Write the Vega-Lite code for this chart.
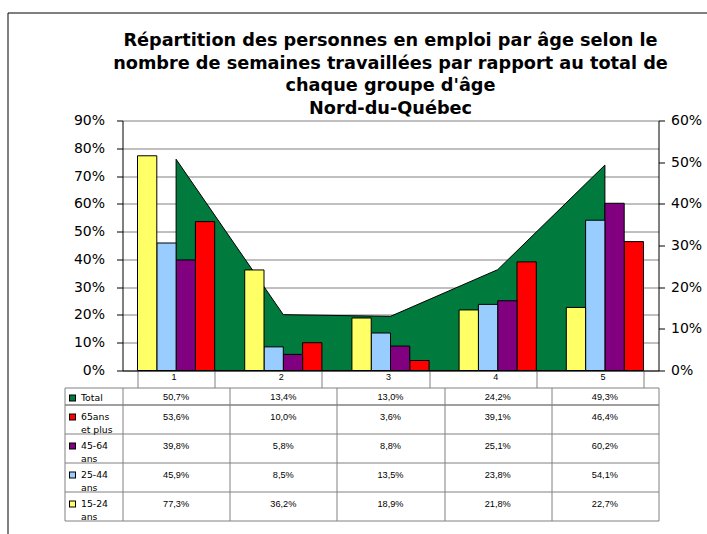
{
  "$schema": "https://vega.github.io/schema/vega-lite/v6.json",
  "padding": {"left": 6.5, "top": 11.5, "right": 0, "bottom": 0},
  "background": "white",
  "spacing": 17,
  "bounds": "flush",
  "config": {
    "locale": {"number": {"decimal": ",", "thousands": " ", "grouping": [3], "currency": ["", " $"]}},
    "view": {"stroke": null},
    "font": "DejaVu Sans"
  },
  "datasets": {
    "emploi": [
      {"categorie": "1", "groupe": "Total", "valeur": 0.507},
      {"categorie": "2", "groupe": "Total", "valeur": 0.134},
      {"categorie": "3", "groupe": "Total", "valeur": 0.130},
      {"categorie": "4", "groupe": "Total", "valeur": 0.242},
      {"categorie": "5", "groupe": "Total", "valeur": 0.493},
      {"categorie": "1", "groupe": "65ans et plus", "valeur": 0.536},
      {"categorie": "2", "groupe": "65ans et plus", "valeur": 0.100},
      {"categorie": "3", "groupe": "65ans et plus", "valeur": 0.036},
      {"categorie": "4", "groupe": "65ans et plus", "valeur": 0.391},
      {"categorie": "5", "groupe": "65ans et plus", "valeur": 0.464},
      {"categorie": "1", "groupe": "45-64 ans", "valeur": 0.398},
      {"categorie": "2", "groupe": "45-64 ans", "valeur": 0.058},
      {"categorie": "3", "groupe": "45-64 ans", "valeur": 0.088},
      {"categorie": "4", "groupe": "45-64 ans", "valeur": 0.251},
      {"categorie": "5", "groupe": "45-64 ans", "valeur": 0.602},
      {"categorie": "1", "groupe": "25-44 ans", "valeur": 0.459},
      {"categorie": "2", "groupe": "25-44 ans", "valeur": 0.085},
      {"categorie": "3", "groupe": "25-44 ans", "valeur": 0.135},
      {"categorie": "4", "groupe": "25-44 ans", "valeur": 0.238},
      {"categorie": "5", "groupe": "25-44 ans", "valeur": 0.541},
      {"categorie": "1", "groupe": "15-24 ans", "valeur": 0.773},
      {"categorie": "2", "groupe": "15-24 ans", "valeur": 0.362},
      {"categorie": "3", "groupe": "15-24 ans", "valeur": 0.189},
      {"categorie": "4", "groupe": "15-24 ans", "valeur": 0.218},
      {"categorie": "5", "groupe": "15-24 ans", "valeur": 0.227}
    ]
  },
  "vconcat": [
    {
      "width": 536,
      "height": 250,
      "title": {
        "text": ["Répartition des personnes en emploi par âge selon le", "nombre de semaines travaillées par rapport au total de", "chaque groupe d'âge", "Nord-du-Québec"],
        "font": "DejaVu Sans",
        "fontSize": 17.7,
        "fontWeight": "bold",
        "lineHeight": 22.5,
        "anchor": "middle",
        "frame": "group",
        "offset": -4,
        "color": "black"
      },
      "data": {"name": "emploi"},
      "layer": [
        {
          "transform": [{"filter": "datum.groupe === 'Total'"}],
          "mark": {"type": "area", "color": "#007A3D", "stroke": "black", "strokeWidth": 1, "opacity": 1},
          "encoding": {
            "x": {"field": "categorie", "type": "nominal", "scale": {"paddingInner": 0.28, "paddingOuter": 0.14}},
            "y": {
              "field": "valeur", "type": "quantitative",
              "scale": {"domain": [0, 0.6], "nice": false},
              "axis": {
                "orient": "right", "title": null, "format": "0%",
                "values": [0, 0.1, 0.2, 0.3, 0.4, 0.5, 0.6],
                "grid": false, "domainColor": "black", "tickColor": "black", "tickSize": 6,
                "labelPadding": 6, "labelFontSize": 14, "labelColor": "black", "labelFont": "DejaVu Sans"
              }
            }
          }
        },
        {
          "transform": [{"filter": "datum.groupe !== 'Total'"}],
          "mark": {"type": "bar", "stroke": "black", "strokeWidth": 1},
          "encoding": {
            "x": {
              "field": "categorie", "type": "nominal",
              "scale": {"paddingInner": 0.28, "paddingOuter": 0.14},
              "axis": {
                "title": null, "orient": "bottom", "tickBand": "extent", "tickSize": 17,
                "tickColor": "#808080", "domainColor": "black", "labelAngle": 0,
                "labelFont": "Liberation Sans", "labelFontSize": 9, "labelColor": "black",
                "labelPadding": -11, "grid": false
              }
            },
            "xOffset": {"field": "groupe", "type": "nominal", "sort": ["15-24 ans", "25-44 ans", "45-64 ans", "65ans et plus"]},
            "y": {
              "field": "valeur", "type": "quantitative",
              "scale": {"domain": [0, 0.9], "nice": false},
              "axis": {
                "orient": "left", "title": null, "format": "0%",
                "values": [0, 0.1, 0.2, 0.3, 0.4, 0.5, 0.6, 0.7, 0.8, 0.9],
                "grid": true, "gridColor": "#808080", "domainColor": "black", "tickColor": "black", "tickSize": 6,
                "labelPadding": 12, "labelFontSize": 14, "labelColor": "black", "labelFont": "DejaVu Sans"
              }
            },
            "color": {
              "field": "groupe", "type": "nominal",
              "scale": {"domain": ["15-24 ans", "25-44 ans", "45-64 ans", "65ans et plus"], "range": ["#FFFF66", "#99CCFF", "#800080", "#FF0000"]},
              "legend": null
            }
          }
        }
      ],
      "resolve": {"scale": {"y": "independent"}}
    },
    {
      "spacing": 0,
      "bounds": "flush",
      "vconcat": [
        {
          "width": 536,
          "height": 17,
          "data": {"name": "emploi"},
          "transform": [{"filter": "datum.groupe === 'Total'"}],
          "layer": [
            {
              "mark": {"type": "text", "font": "Liberation Sans", "fontSize": 9.2, "baseline": "middle", "color": "black", "dy": 1},
              "encoding": {
                "x": {
                  "field": "categorie", "type": "nominal",
                  "scale": {"paddingInner": 0, "paddingOuter": 0},
                  "axis": {"title": null, "orient": "bottom", "grid": true, "gridColor": "#808080", "tickBand": "extent", "ticks": false, "labels": false, "domain": false}
                },
                "y": {
                  "field": "groupe", "type": "nominal",
                  "scale": {"paddingInner": 0, "paddingOuter": 0},
                  "axis": {
                    "orient": "left", "title": null, "grid": true, "gridColor": "#808080", "tickBand": "extent",
                    "ticks": true, "tickSize": 58, "tickColor": "#808080", "domain": false,
                    "labelAlign": "left", "labelPadding": -16, "labelOffset": 1, "labelFont": "DejaVu Sans", "labelFontSize": 9.3,
                    "labelColor": "black", "labelBaseline": "middle",
                    "labelExpr": "datum.value == null ? '' : datum.value"
                  }
                },
                "text": {"field": "valeur", "type": "quantitative", "format": ".1%"}
              }
            },
            {
              "mark": {"type": "point", "opacity": 0},
              "encoding": {
                "y": {
                  "field": "groupe", "type": "nominal",
                  "axis": {"orient": "left", "offset": 58, "title": null, "domain": true, "domainColor": "#808080", "ticks": false, "labels": false, "grid": false}
                }
              }
            },
            {
              "mark": {"type": "point", "opacity": 0},
              "encoding": {
                "y": {
                  "field": "groupe", "type": "nominal",
                  "axis": {"orient": "left", "offset": 47, "title": null, "domain": false, "labels": false, "grid": false, "ticks": true, "tickSize": 7, "tickWidth": 7, "tickOffset": 1, "tickColor": "black"}
                }
              }
            },
            {
              "mark": {"type": "point", "opacity": 0},
              "encoding": {
                "y": {
                  "field": "groupe", "type": "nominal",
                  "axis": {"orient": "left", "offset": 48, "title": null, "domain": false, "labels": false, "grid": false, "ticks": true, "tickSize": 5, "tickWidth": 5, "tickOffset": 1, "tickColor": "#007A3D"}
                }
              }
            },
            {
              "mark": {"type": "point", "opacity": 0},
              "encoding": {
                "x": {
                  "field": "categorie", "type": "nominal",
                  "axis": {"orient": "top", "offset": 375, "values": ["1"], "title": null, "domain": false, "labels": false, "grid": false, "ticks": true, "tickSize": -522, "tickOffset": -168.6, "tickColor": "black", "tickWidth": 1}
                },
                "y": {
                  "field": "groupe", "type": "nominal",
                  "axis": {"orient": "left", "offset": 115, "values": ["Total"], "title": null, "domain": false, "labels": false, "grid": false, "ticks": true, "tickSize": -699, "tickOffset": -383.5, "tickColor": "black", "tickWidth": 1}
                }
              }
            }
          ],
          "resolve": {"axis": {"x": "independent", "y": "independent"}}
        },
        {
          "width": 536,
          "height": 116,
          "data": {"name": "emploi"},
          "transform": [{"filter": "datum.groupe !== 'Total'"}],
          "layer": [
            {
              "mark": {"type": "text", "font": "Liberation Sans", "fontSize": 9.2, "baseline": "middle", "color": "black", "dy": -2.5},
              "encoding": {
                "x": {
                  "field": "categorie", "type": "nominal",
                  "scale": {"paddingInner": 0, "paddingOuter": 0},
                  "axis": {"title": null, "orient": "bottom", "grid": true, "gridColor": "#808080", "tickBand": "extent", "ticks": false, "labels": false, "domain": false}
                },
                "y": {
                  "field": "groupe", "type": "nominal",
                  "sort": ["65ans et plus", "45-64 ans", "25-44 ans", "15-24 ans"],
                  "scale": {"paddingInner": 0, "paddingOuter": 0},
                  "axis": {
                    "orient": "left", "title": null, "grid": true, "gridColor": "#808080", "tickBand": "extent",
                    "ticks": true, "tickSize": 58, "tickColor": "#808080", "domain": false,
                    "labelAlign": "left", "labelPadding": -16, "labelOffset": -2.5, "labelFont": "DejaVu Sans", "labelFontSize": 9.3,
                    "labelColor": "black", "labelLineHeight": 13, "labelBaseline": "middle",
                    "labelExpr": "datum.value == null ? '' : datum.value == '65ans et plus' ? ['65ans', 'et plus'] : split(datum.value, ' ')"
                  }
                },
                "text": {"field": "valeur", "type": "quantitative", "format": ".1%"}
              }
            },
            {
              "mark": {"type": "point", "opacity": 0},
              "encoding": {
                "y": {
                  "field": "groupe", "type": "nominal",
                  "sort": ["65ans et plus", "45-64 ans", "25-44 ans", "15-24 ans"],
                  "axis": {"orient": "left", "offset": 58, "title": null, "domain": true, "domainColor": "#808080", "ticks": false, "labels": false, "grid": false}
                }
              }
            },
            {
              "mark": {"type": "point", "opacity": 0},
              "encoding": {
                "y": {
                  "field": "groupe", "type": "nominal",
                  "sort": ["65ans et plus", "45-64 ans", "25-44 ans", "15-24 ans"],
                  "axis": {"orient": "left", "offset": 47, "title": null, "domain": false, "labels": false, "grid": false, "ticks": true, "tickSize": 7, "tickWidth": 7, "tickOffset": -2.5, "tickColor": "black"}
                }
              }
            },
            {
              "mark": {"type": "point", "opacity": 0},
              "encoding": {
                "y": {
                  "field": "groupe", "type": "nominal",
                  "sort": ["65ans et plus", "45-64 ans", "25-44 ans", "15-24 ans"],
                  "axis": {
                    "orient": "left", "offset": 48, "title": null, "domain": false, "labels": false, "grid": false,
                    "ticks": true, "tickSize": 5, "tickWidth": 5, "tickOffset": -2.5,
                    "tickColor": {
                      "condition": [
                        {"test": "datum.value === '65ans et plus'", "value": "#FF0000"},
                        {"test": "datum.value === '45-64 ans'", "value": "#800080"},
                        {"test": "datum.value === '25-44 ans'", "value": "#99CCFF"}
                      ],
                      "value": "#FFFF66"
                    }
                  }
                }
              }
            }
          ],
          "resolve": {"axis": {"y": "independent"}}
        }
      ]
    }
  ]
}
